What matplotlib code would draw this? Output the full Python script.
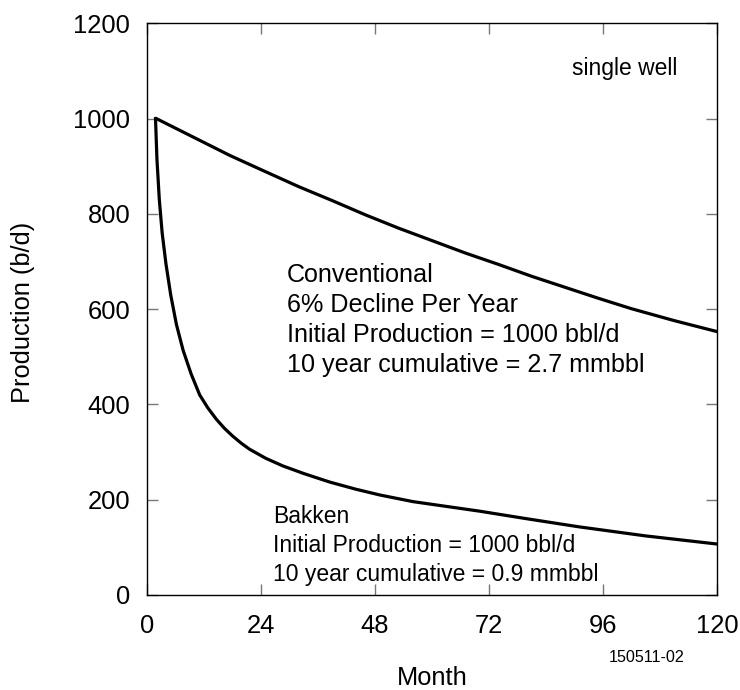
#!/usr/bin/env python3
"""Single well production: conventional vs Bakken decline."""

import matplotlib

matplotlib.use("Agg")
import matplotlib.pyplot as plt  # noqa: E402

conv_month = [2, 10, 17.4, 24, 32, 39, 46, 53, 60, 67, 74, 81, 88, 95, 102, 111, 120]
conv_prod = [1000, 960, 923, 893, 857, 828, 798, 770, 744, 718, 694, 669, 646, 623, 601, 576, 553]

bakken_month = [1.8, 2.1, 2.6, 3.2, 4.0, 5.0, 6.2, 7.6, 9.3, 11.1, 12.8, 14.6, 16.3, 18,
                19.8, 21.6, 25, 28.6, 33, 38.5, 44, 49, 56, 63, 70, 80, 91, 105, 120]
bakken_prod = [1000, 915, 830, 760, 695, 630, 568, 514, 464, 420, 393, 369, 350, 334,
               319, 306, 287, 271, 255, 237, 222, 210, 196, 186, 176, 160, 143, 124, 107]

x_ticks = [0, 24, 48, 72, 96, 120]
y_ticks = [0, 200, 400, 600, 800, 1000, 1200]

conv_text = [
    "Conventional",
    "6% Decline Per Year",
    "Initial Production = 1000 bbl/d",
    "10 year cumulative = 2.7 mmbbl",
]
bakken_text = [
    "Bakken",
    "Initial Production = 1000 bbl/d",
    "10 year cumulative = 0.9 mmbbl",
]


def main():
    plt.rcParams["font.family"] = ["Liberation Sans", "DejaVu Sans"]
    fig = plt.figure(figsize=(7.4, 6.9), dpi=100)
    ax = fig.add_axes([0.1986, 0.1377, 0.7703, 0.8284])

    ax.plot(conv_month, conv_prod, color="black", lw=2.3, solid_joinstyle="round")
    ax.plot(bakken_month, bakken_prod, color="black", lw=2.3, solid_joinstyle="round")

    ax.set_xlim(0, 120)
    ax.set_ylim(0, 1200)
    ax.set_xticks(x_ticks)
    ax.set_yticks(y_ticks)
    ax.tick_params(direction="in", length=8, width=1, color="#777777",
                   labelsize=18.4, top=True, right=True)
    ax.tick_params(axis="x", pad=14)
    ax.tick_params(axis="y", pad=12)
    for spine in ax.spines.values():
        spine.set_linewidth(1)
        spine.set_color("black")

    fig.text(432 / 740, 1 - 678 / 690, "Month", fontsize=18.3,
             ha="center", va="center")
    fig.text(23 / 740, 1 - 312 / 690, "Production (b/d)", fontsize=18.3,
             ha="center", va="center", rotation=90)

    ax.text(100.5, 1106, "single well", fontsize=16.5, ha="center", va="center")
    for i, line in enumerate(conv_text):
        ax.text(29.4, 672 - i * 63, line, fontsize=18.1, ha="left", va="center")
    for i, line in enumerate(bakken_text):
        ax.text(26.5, 164 - i * 60, line, fontsize=16.5, ha="left", va="center")

    fig.text(647 / 740, 1 - 657 / 690, "150511-02", fontsize=11.6,
             ha="center", va="center")

    fig.savefig("out.png")


if __name__ == "__main__":
    main()
